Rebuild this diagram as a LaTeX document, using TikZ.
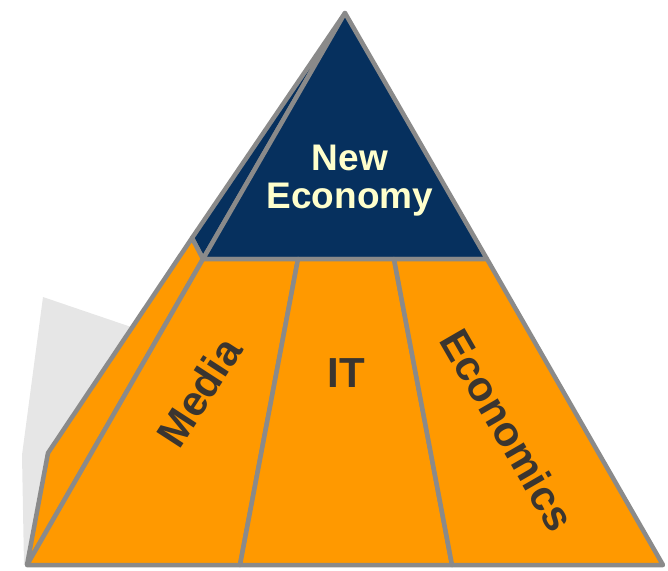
\documentclass[tikz,border=0pt]{standalone}
\usepackage{fontspec}
\setsansfont{Liberation Sans}
\definecolor{navy}{HTML}{06305E}
\definecolor{pyrorange}{HTML}{FF9900}
\definecolor{edgegray}{HTML}{8A8A8A}
\definecolor{shadowgray}{HTML}{E6E6E6}
\definecolor{cream}{HTML}{FFFFCC}
\definecolor{labelgray}{HTML}{3A3530}

\begin{document}
\begin{tikzpicture}[x=1pt,y=-1pt,
    face/.style={draw=edgegray,line width=4.5pt,line join=round},
    label/.style={font=\sffamily\bfseries\fontsize{42}{42}\selectfont,text=labelgray}]
      \useasboundingbox (0,0) rectangle (668,570);
      \fill[shadowgray] (43,297) -- (140,330) -- (140,565) -- (24,565) -- (22,455) -- cycle;
      \coordinate (apex) at (345,13);
      \coordinate (kink) at (48,453);
      \coordinate (bl) at (27,565);
      \coordinate (sidesplit) at (192,238);
      \coordinate (frontleft) at (203,259);
      \coordinate (frontright) at (487,259);
      \draw[face,fill=navy] (apex) -- (sidesplit) -- (frontleft) -- cycle;
      \draw[face,fill=navy] (apex) -- (frontleft) -- (frontright) -- cycle;
      \draw[face,fill=pyrorange] (sidesplit) -- (kink) -- (bl) -- (frontleft) -- cycle;
      \foreach \ta/\tb/\ba/\bb in {203/298/27/240, 298/394/240/452, 394/487/452/663} {\draw[face,fill=pyrorange] (\ta,259) -- (\tb,259) -- (\bb,565) -- (\ba,565) -- cycle; }
      \node[font=\sffamily\bfseries\fontsize{37}{38}\selectfont,text=cream,align=center] (neweco) at (350,181) {New\\Economy};
      \node[label,rotate=57] (media) at (199,392) {Media};
      \node[label] (it) at (346,373) {IT};
      \node[label,rotate=-60] (econ) at (508,430) {Economics};
   \end{tikzpicture}
\end{document}
